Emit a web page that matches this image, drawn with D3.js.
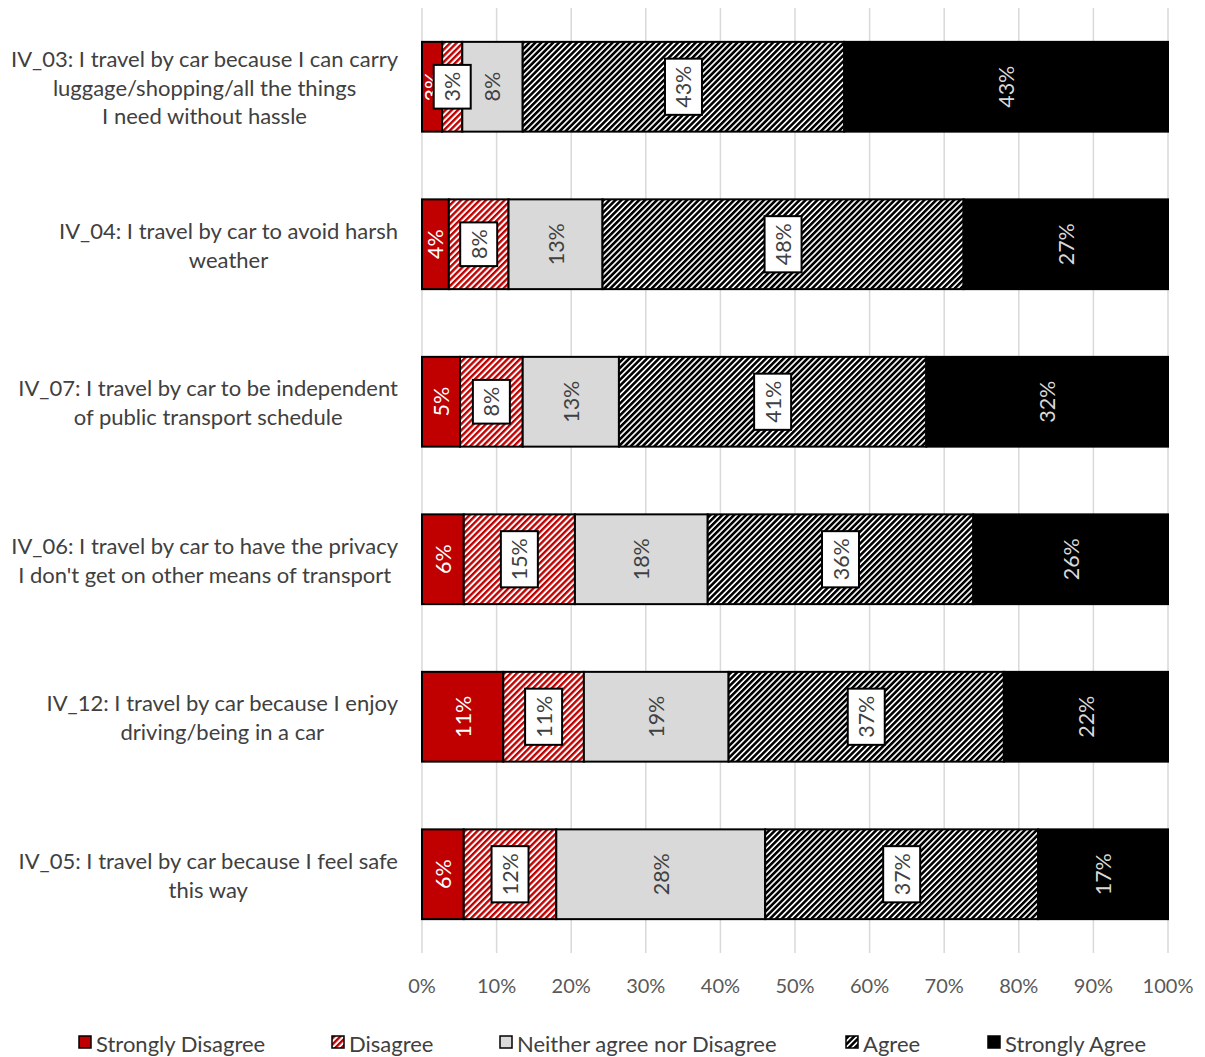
<!DOCTYPE html>
<html>
<head>
<meta charset="utf-8">
<script src="https://cdn.jsdelivr.net/npm/d3@7"></script>
<style>
  body { margin: 0; background: #fff; }
  text { font-family: Lato, "Open Sans", sans-serif; }
</style>
</head>
<body>
<svg id="chart" width="1205" height="1057"></svg>
<script>
// Survey statements (one array of lines per statement)
const statements = [
  ["IV_03: I travel by car because I can carry", "luggage/shopping/all the things", "I need without hassle"],
  ["IV_04: I travel by car to avoid harsh", "weather"],
  ["IV_07: I travel by car to be independent", "of public transport schedule"],
  ["IV_06: I travel by car to have the privacy", "I don't get on other means of transport"],
  ["IV_12: I travel by car because I enjoy", "driving/being in a car"],
  ["IV_05: I travel by car because I feel safe", "this way"]
];
const responses = ["Strongly Disagree", "Disagree", "Neither agree nor Disagree", "Agree", "Strongly Agree"];

// Share of respondents (%) per statement
const stronglyDisagree = [2.7, 3.6, 5.1, 5.6, 10.9, 5.6];
const disagree         = [2.7, 8.0, 8.4, 14.9, 10.8, 12.4];
const neither          = [8.1, 12.6, 12.9, 17.8, 19.4, 28.0];
const agree            = [43.1, 48.4, 41.2, 35.6, 36.9, 36.6];
const stronglyAgree    = [43.4, 27.4, 32.4, 26.1, 22.0, 17.4];

const xTicks = [0, 10, 20, 30, 40, 50, 60, 70, 80, 90, 100];

const seriesValues = [stronglyDisagree, disagree, neither, agree, stronglyAgree];
const rows = statements.map((s, i) => {
  const r = { id: i };
  responses.forEach((k, j) => { r[k] = seriesValues[j][i]; });
  return r;
});

const svg = d3.select("#chart");
const x = d3.scaleLinear().domain([0, 100]).range([422, 1168]);
const y = d3.scaleBand().domain(d3.range(statements.length)).range([8, 953])
  .paddingInner(0.43).paddingOuter(0.215);

// Fill patterns
const defs = svg.append("defs");
function stripes(id, color, size, w) {
  const p = defs.append("pattern").attr("id", id).attr("patternUnits", "userSpaceOnUse")
    .attr("width", size).attr("height", size).attr("patternTransform", "rotate(45)");
  p.append("rect").attr("width", size).attr("height", size).attr("fill", "#fff");
  p.append("rect").attr("width", w).attr("height", size).attr("fill", color);
}
stripes("disagreePat", "#C00000", 4.4, 2.4);
stripes("agreePat", "#000", 4.2, 2.6);

const fills = {
  "Strongly Disagree": "#C00000",
  "Disagree": "url(#disagreePat)",
  "Neither agree nor Disagree": "#D9D9D9",
  "Agree": "url(#agreePat)",
  "Strongly Agree": "#000"
};

// Vertical gridlines
svg.append("g").selectAll("line").data(xTicks).join("line")
  .attr("x1", d => x(d)).attr("x2", d => x(d))
  .attr("y1", 8).attr("y2", 953)
  .attr("stroke", "#D9D9D9").attr("stroke-width", 1.5);

// Tick labels
svg.append("g").selectAll("text").data(xTicks).join("text")
  .attr("x", d => x(d)).attr("y", 985)
  .attr("text-anchor", "middle").attr("dominant-baseline", "central")
  .attr("fill", "#595959").attr("font-size", 20)
  .text(d => d + "%");

const stacked = d3.stack().keys(responses)(rows);

// Bar segments
const segG = svg.append("g");
stacked.forEach(layer => {
  segG.append("g").selectAll("rect").data(layer).join("rect")
    .attr("x", d => x(d[0])).attr("width", d => x(d[1]) - x(d[0]))
    .attr("y", d => y(d.data.id)).attr("height", y.bandwidth())
    .attr("fill", fills[layer.key])
    .attr("stroke", "#000").attr("stroke-width", 2);
});

// Value labels, rotated
const labelStyle = {
  "Strongly Disagree": { color: "#fff", boxed: false },
  "Disagree": { color: "#404040", boxed: true },
  "Neither agree nor Disagree": { color: "#404040", boxed: false },
  "Agree": { color: "#404040", boxed: true },
  "Strongly Agree": { color: "#D9D9D9", boxed: false }
};
const labG = svg.append("g");
stacked.forEach(layer => {
  const st = labelStyle[layer.key];
  layer.forEach(d => {
    const g = labG.append("g")
      .attr("transform", `translate(${(x(d[0]) + x(d[1])) / 2},${y(d.data.id) + y.bandwidth() / 2}) rotate(-90)`);
    const rect = st.boxed ? g.append("rect") : null;
    const t = g.append("text")
      .attr("text-anchor", "middle").attr("dominant-baseline", "central")
      .attr("font-size", 21.5).attr("fill", st.color)
      .text(Math.round(d[1] - d[0]) + "%");
    if (rect) {
      const len = t.node().getComputedTextLength();
      rect.attr("x", -len / 2 - 7).attr("width", len + 14)
        .attr("y", -18.5).attr("height", 37)
        .attr("fill", "#fff").attr("stroke", "#000").attr("stroke-width", 2);
    }
  });
});

// Category labels: block right-aligned, lines centred within the block
const catG = svg.append("g");
statements.forEach((lines, i) => {
  const lh = 28.7;
  const cy = y(i) + y.bandwidth() / 2;
  const t = catG.append("text").attr("font-size", 22).attr("fill", "#404040")
    .attr("text-anchor", "middle").attr("dominant-baseline", "central");
  const spans = lines.map((l, k) => t.append("tspan")
    .attr("y", cy + (k - (lines.length - 1) / 2) * lh).text(l));
  const maxW = d3.max(spans, s => s.node().getComputedTextLength());
  spans.forEach(s => s.attr("x", 398 - maxW / 2));
});

// Legend
const legendX = [79, 332, 500, 846, 988];
const lg = svg.append("g");
responses.forEach((k, i) => {
  lg.append("rect").attr("x", legendX[i]).attr("y", 1036).attr("width", 12).attr("height", 12)
    .attr("fill", fills[k]).attr("stroke", "#000").attr("stroke-width", 1.5);
  lg.append("text").attr("x", legendX[i] + 17).attr("y", 1043)
    .attr("dominant-baseline", "central").attr("font-size", 22).attr("fill", "#404040")
    .text(k);
});
</script>
</body>
</html>
